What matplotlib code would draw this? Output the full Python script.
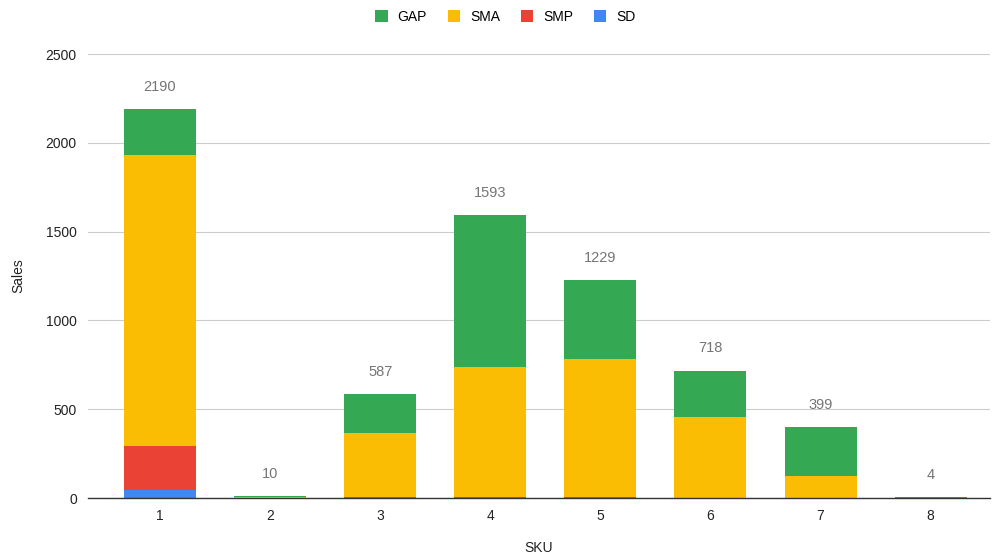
import matplotlib
matplotlib.use("Agg")
import matplotlib.pyplot as plt
import numpy as np

plt.rcParams['font.family'] = ['Liberation Sans', 'DejaVu Sans']

skus = ["1", "2", "3", "4", "5", "6", "7", "8"]
sd = [45, 0, 0, 0, 0, 0, 0, 0]
smp = [248, 0, 4, 6, 6, 0, 0, 0]
sma = [1638, 5, 364, 733, 777, 454, 124, 0]
gap = [259, 5, 219, 854, 446, 264, 275, 4]

series = [("SD", sd, "#4285F4"), ("SMP", smp, "#EA4335"),
          ("SMA", sma, "#FBBC04"), ("GAP", gap, "#34A853")]

fig = plt.figure(figsize=(9.95, 5.58), dpi=100)
ax = fig.add_axes([0.0884, 0.1075, 0.9066, 0.7955])

x = np.arange(1, len(skus) + 1)
bottom = np.zeros(len(skus))
handles = {}
for name, vals, color in series:
    v = np.array(vals, dtype=float)
    b = ax.bar(x, v, bottom=bottom, width=0.654, color=color, linewidth=0, zorder=3)
    handles[name] = b
    bottom += v

totals = bottom
for xi, t in zip(x, totals):
    ax.annotate(f"{int(t)}", (xi, t), xytext=(0, 11), textcoords="offset points",
                ha="center", va="bottom", fontsize=10.5, color="#757575")

ax.set_ylim(0, 2500)
ax.set_xlim(0.345, 8.54)
ax.set_yticks([0, 500, 1000, 1500, 2000, 2500])
ax.set_xticks(x)
ax.set_xticklabels(skus)
ax.tick_params(axis="both", length=0, labelsize=10, labelcolor="#222222")
ax.tick_params(axis="y", pad=8)
ax.tick_params(axis="x", pad=8)
ax.grid(axis="y", color="#cccccc", linewidth=0.8, zorder=0)
for s in ["top", "right", "left"]:
    ax.spines[s].set_visible(False)
ax.spines["bottom"].set_color("#333333")
ax.spines["bottom"].set_linewidth(1.0)
ax.spines["bottom"].set_zorder(4)

ax.set_xlabel("SKU", fontsize=10, color="#222222", labelpad=13)
ax.set_ylabel("Sales", fontsize=10, color="#222222", labelpad=15)

order = ["GAP", "SMA", "SMP", "SD"]
fig.legend([handles[n] for n in order], order, loc="upper center",
           bbox_to_anchor=(0.508, 1.005), ncol=4, frameon=False, fontsize=10,
           handlelength=0.9, handleheight=0.9, columnspacing=1.5, handletextpad=0.7)

fig.savefig("out.png", dpi=100)
